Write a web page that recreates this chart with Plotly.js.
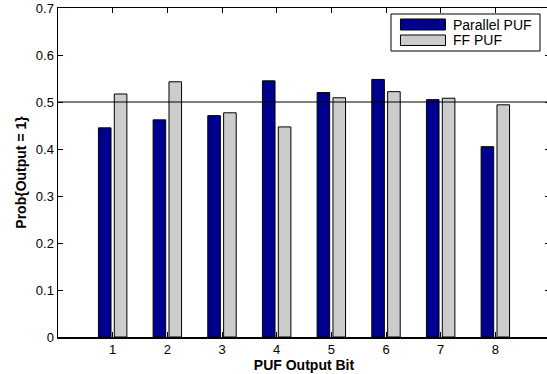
<!DOCTYPE html>
<html>
<head>
<meta charset="utf-8">
<script src="https://cdn.plot.ly/plotly-3.0.1.min.js"></script>
<style>
html, body { margin: 0; padding: 0; background: #fff; overflow: hidden; width: 547px; height: 374px; }
#chart { width: 552px; height: 374px; }
</style>
</head>
<body>
<div id="chart"></div>
<script>
// ---- data ----
const bits = [1, 2, 3, 4, 5, 6, 7, 8];
const parallelPUF = [0.445, 0.462, 0.471, 0.545, 0.520, 0.548, 0.505, 0.405];
const ffPUF = [0.517, 0.543, 0.477, 0.447, 0.509, 0.522, 0.508, 0.494];
const seriesNames = ['Parallel PUF', 'FF PUF'];
const yTickVals = [0, 0.1, 0.2, 0.3, 0.4, 0.5, 0.6, 0.7];
const yTickText = ['0', '0.1', '0.2', '0.3', '0.4', '0.5', '0.6', '0.7'];
const xTickText = ['1', '2', '3', '4', '5', '6', '7', '8'];
const refLevel = 0.5;

const FONT = 'Liberation Sans, Arial, Helvetica, sans-serif';
const NAVY = '#00008f';
const GRAY = '#cccccc';

const traces = [
  {
    type: 'bar', x: bits, y: parallelPUF, name: seriesNames[0],
    offset: -0.26, width: 0.23,
    marker: { color: NAVY, line: { color: '#000', width: 1 } },
    showlegend: false, hoverinfo: 'x+y'
  },
  {
    type: 'bar', x: bits, y: ffPUF, name: seriesNames[1],
    offset: 0.03, width: 0.23,
    marker: { color: GRAY, line: { color: '#000', width: 1 } },
    showlegend: false, hoverinfo: 'x+y'
  }
];

// legend geometry (paper coords)
const lg = { x0: 0.6768, x1: 0.9797, y0: 0.8693, y1: 0.9818 };
const sw = { x0: 0.6961, x1: 0.7876 };
const rows = [
  { y0: 0.9331, y1: 0.9666, yt: 0.9498, color: NAVY },
  { y0: 0.8860, y1: 0.9179, yt: 0.9018, color: GRAY }
];

const shapes = [
  { type: 'line', xref: 'paper', yref: 'y', x0: 0, x1: 1, y0: refLevel, y1: refLevel,
    line: { color: '#000', width: 1 }, layer: 'above' },
  { type: 'rect', xref: 'paper', yref: 'paper', x0: lg.x0, x1: lg.x1, y0: lg.y0, y1: lg.y1,
    fillcolor: '#fff', line: { color: '#000', width: 1 }, layer: 'above' }
];
const annotations = [];
rows.forEach((r, i) => {
  shapes.push({ type: 'rect', xref: 'paper', yref: 'paper', x0: sw.x0, x1: sw.x1, y0: r.y0, y1: r.y1,
    fillcolor: r.color, line: { color: '#000', width: 1 }, layer: 'above' });
  annotations.push({ xref: 'paper', yref: 'paper', x: 0.7988, y: r.yt, xanchor: 'left', yanchor: 'middle',
    text: seriesNames[i], showarrow: false, font: { family: FONT, size: 14, color: '#000' } });
});

const layout = {
  width: 552, height: 374,
  margin: { l: 58, r: 2, t: 8, b: 37 },
  paper_bgcolor: '#fff', plot_bgcolor: '#fff',
  font: { family: FONT, size: 13, color: '#000' },
  barmode: 'overlay',
  showlegend: false,
  xaxis: {
    range: [0, 9], tickvals: bits, ticktext: xTickText,
    ticks: 'inside', ticklen: 5, tickwidth: 1, tickcolor: '#000',
    showline: true, linecolor: '#000', linewidth: 1.5, mirror: 'ticks',
    showgrid: false, zeroline: false, fixedrange: true,
    tickfont: { family: FONT, size: 13 },
    title: { text: '<b>PUF Output Bit</b>', font: { family: FONT, size: 14 }, standoff: 4 }
  },
  yaxis: {
    range: [0, 0.7], tickvals: yTickVals, ticktext: yTickText,
    ticks: 'inside', ticklen: 5, tickwidth: 1, tickcolor: '#000',
    showline: true, linecolor: '#000', linewidth: 1.5, mirror: 'ticks',
    showgrid: false, zeroline: false, fixedrange: true,
    tickfont: { family: FONT, size: 13 },
    title: { text: '<b>Prob{Output = 1}</b>', font: { family: FONT, size: 14 }, standoff: 6 }
  },
  shapes: shapes,
  annotations: annotations
};

Plotly.newPlot('chart', traces, layout, { displayModeBar: false, staticPlot: true });
</script>
</body>
</html>
